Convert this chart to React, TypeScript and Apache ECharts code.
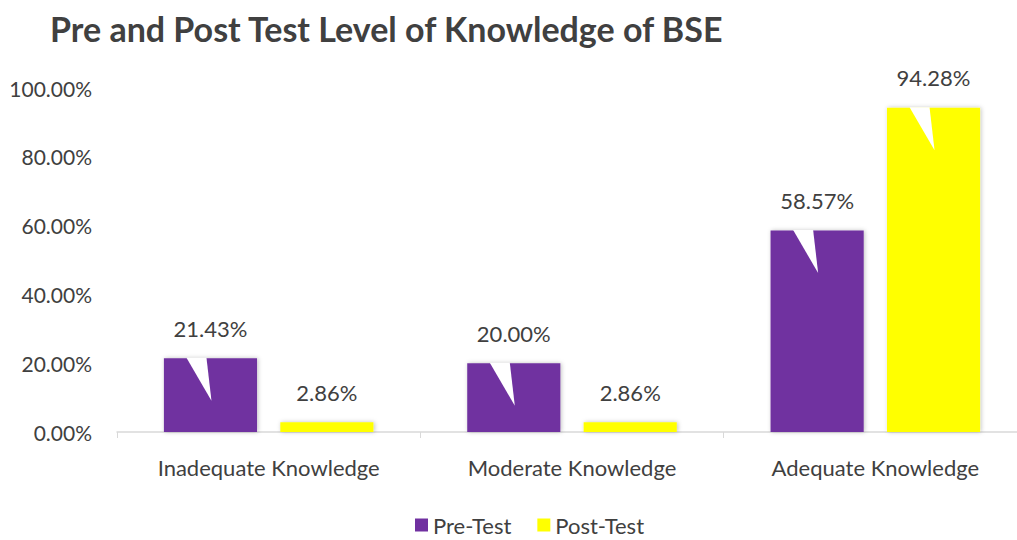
import React, { useEffect, useRef } from "react";
import * as echarts from "echarts";

const categories = ["Inadequate Knowledge", "Moderate Knowledge", "Adequate Knowledge"];
const preTest = [21.43, 20.0, 58.57];
const postTest = [2.86, 2.86, 94.28];
const yTicks = { min: 0, max: 100, interval: 20 };

const FONT = "Lato, 'Open Sans', sans-serif";
const BAR_PCT = 0.307;
const GAP_RATIO = 0.25;

function notchSeries(name: string, values: number[], side: number) {
  return {
    type: "custom",
    name,
    silent: true,
    z: 5,
    data: values.map((v, i) => [i, v]),
    renderItem: (params: any, api: any) => {
      const idx = api.value(0);
      const val = api.value(1);
      const top = api.coord([idx, val]);
      const base = api.coord([idx, 0]);
      const band = api.size([1, 0])[0];
      const bw = band * BAR_PCT;
      const gap = bw * GAP_RATIO;
      const cx = top[0] + side * (bw + gap) / 2;
      const h = base[1] - top[1];
      if (h < 60) return null;
      const y = top[1] - 0.5;
      return {
        type: "polygon",
        shape: {
          points: [
            [cx - 24, y],
            [cx - 4, y],
            [cx + 1, y + 43],
          ],
        },
        style: { fill: "#ffffff" },
      };
    },
  };
}

export default function App() {
  const ref = useRef<HTMLDivElement>(null);
  useEffect(() => {
    if (!ref.current) return;
    const chart = echarts.init(ref.current, null, { renderer: "svg" });
    const labelCfg = {
      show: true,
      position: "top",
      distance: 19,
      fontSize: 22,
      fontFamily: FONT,
      color: "#404040",
      formatter: (p: any) => `${Number(p.value).toFixed(2)}%`,
    };
    chart.setOption({
      animation: false,
      backgroundColor: "#ffffff",
      title: {
        text: "Pre and Post Test Level of Knowledge of BSE",
        left: 45,
        top: 6,
        textStyle: { fontFamily: FONT, fontWeight: "bold", fontSize: 34, color: "#404040" },
      },
      legend: {
        data: ["Pre-Test", "Post-Test"],
        bottom: -1,
        left: 410,
        itemWidth: 13,
        itemHeight: 13,
        itemGap: 26,
        icon: "rect",
        textStyle: { fontFamily: FONT, fontSize: 22, color: "#404040" },
      },
      grid: { left: 117, width: 910, top: 88, height: 344 },
      xAxis: {
        type: "category",
        data: categories,
        axisLine: { lineStyle: { color: "#d9d9d9", width: 1.5 } },
        axisTick: { show: true, length: 6, lineStyle: { color: "#d9d9d9" } },
        axisLabel: { margin: 24, fontSize: 22, fontFamily: FONT, color: "#404040" },
      },
      yAxis: {
        type: "value",
        min: yTicks.min,
        max: yTicks.max,
        interval: yTicks.interval,
        splitLine: { show: false },
        axisLine: { show: false },
        axisTick: { show: false },
        axisLabel: {
          margin: 25,
          fontSize: 21,
          fontFamily: FONT,
          color: "#404040",
          formatter: (v: number) => `${v.toFixed(2)}%`,
        },
      },
      series: [
        {
          name: "Pre-Test",
          type: "bar",
          data: preTest,
          barWidth: `${BAR_PCT * 100}%`,
          barGap: `${GAP_RATIO * 100}%`,
          itemStyle: {
            color: "#7030A0",
            shadowColor: "rgba(0,0,0,0.25)",
            shadowBlur: 4,
            shadowOffsetX: 1,
            shadowOffsetY: 0,
          },
          label: labelCfg,
        },
        {
          name: "Post-Test",
          type: "bar",
          data: postTest,
          barWidth: `${BAR_PCT * 100}%`,
          itemStyle: {
            color: "#FFFF00",
            shadowColor: "rgba(0,0,0,0.25)",
            shadowBlur: 4,
            shadowOffsetX: 1,
            shadowOffsetY: 0,
          },
          label: labelCfg,
        },
        notchSeries("notchPre", preTest, -1),
        notchSeries("notchPost", postTest, 1),
      ],
    });
    return () => chart.dispose();
  }, []);
  return (
    <div
      style={{ position: "fixed", left: 0, top: 0, width: 1017, height: 540, overflow: "hidden" }}
    >
      <div ref={ref} style={{ width: 1040, height: 540 }} />
    </div>
  );
}
